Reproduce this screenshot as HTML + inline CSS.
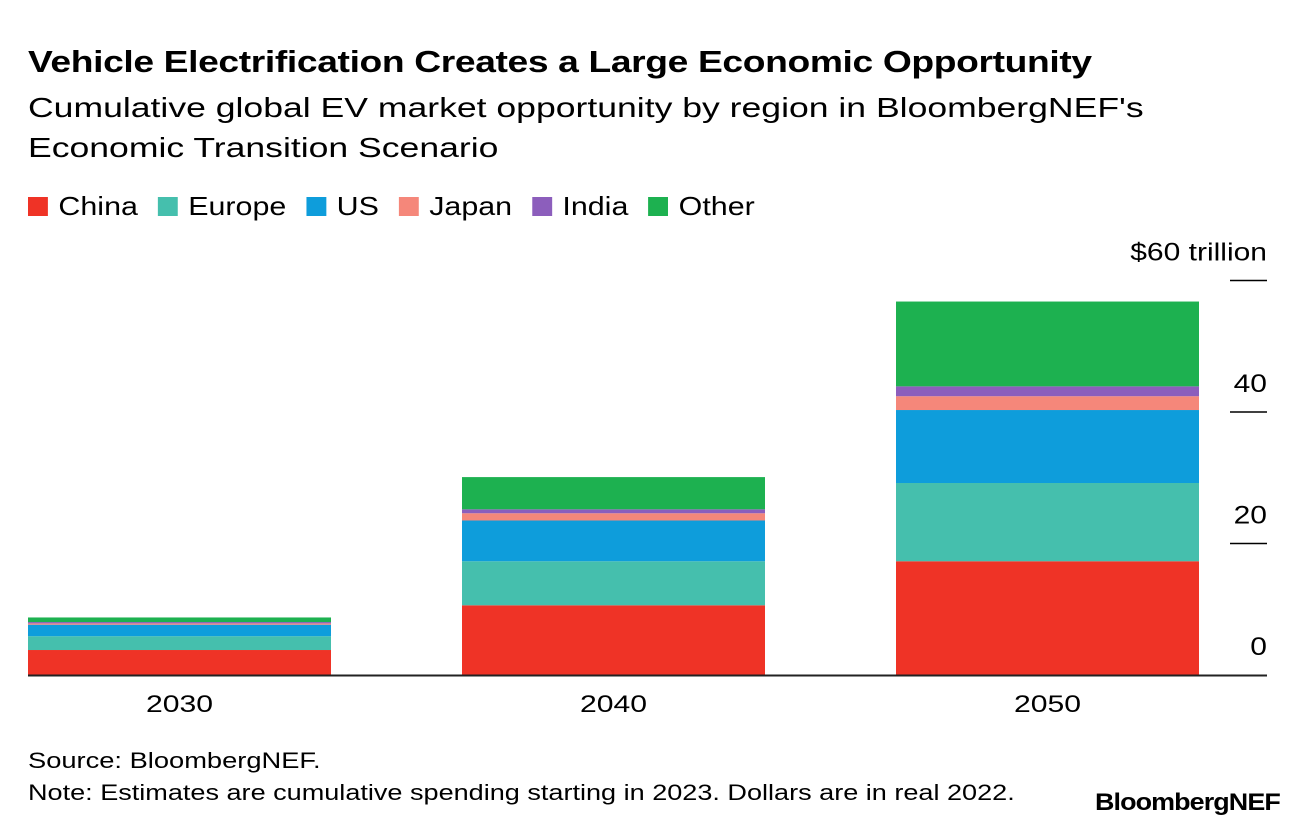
<!DOCTYPE html>
<html><head><meta charset="utf-8"><style>
body{margin:0;background:#fff;width:1296px;height:832px;overflow:hidden;font-family:"Liberation Sans",sans-serif;color:#000}
.t{position:absolute;white-space:nowrap;transform-origin:left top}
</style></head><body>
<div class="t" style="left:28px;top:44px;font-size:31px;font-weight:bold;letter-spacing:-0.3px;transform:scaleX(1.2)">Vehicle Electrification Creates a Large Economic Opportunity</div>
<div class="t" style="left:28px;top:88px;font-size:28px;line-height:40px;transform:scaleX(1.27)">Cumulative global EV market opportunity by region in BloombergNEF's<br>Economic Transition Scenario</div>
<div id="legend" class="t" style="left:28px;top:191px;font-size:26px;display:flex;gap:0;transform:scaleX(1.17)"></div>
<svg id="chart" width="1296" height="832" style="position:absolute;left:0;top:0;pointer-events:none"></svg>
<div class="t" style="left:28px;top:748px;font-size:22px;transform:scaleX(1.24)">Source: BloombergNEF.</div>
<div class="t" style="left:28px;top:780px;font-size:22px;transform:scaleX(1.23)">Note: Estimates are cumulative spending starting in 2023. Dollars are in real 2022.</div>
<div class="t" style="left:1095px;top:789px;font-size:24px;font-weight:bold;letter-spacing:-0.8px;transform:scaleX(1.12)">BloombergNEF</div>
<script>
const categories=["2030","2040","2050"];
const seriesNames=["China","Europe","US","Japan","India","Other"];
const colors=["#ef3326","#45bfad","#0e9ddb","#f5877a","#8c5ebc","#1db150"];
const china=[3.8,10.6,17.3];
const europe=[2.1,6.7,11.9];
const us=[1.75,6.2,11.1];
const japan=[0.2,1.1,2.1];
const india=[0.2,0.6,1.5];
const other=[0.7,4.9,12.9];
const ticks=[0,20,40,60];
const tickLabels=["0","20","40","$60 trillion"];
const series=[china,europe,us,japan,india,other];
const NS="http://www.w3.org/2000/svg";
const svg=document.getElementById('chart');
const y0=675,pxPer=131.5/20;
const y=v=>y0-v*pxPer;
const barW=303,x=i=>28+i*434;
function el(t,a){const e=document.createElementNS(NS,t);for(const k in a)e.setAttribute(k,a[k]);svg.appendChild(e);return e;}
categories.forEach((c,i)=>{
  let acc=0;
  series.forEach((s,j)=>{
    const r=el('rect',{x:x(i),y:y(acc+s[i]),width:barW,height:s[i]*pxPer,fill:colors[j]});
    
    
    acc+=s[i];
  });
  const t=el('text',{x:x(i)+barW/2,y:712,'text-anchor':'middle','font-size':24,'font-family':'Liberation Sans',textLength:67,lengthAdjust:'spacingAndGlyphs'});
  t.textContent=c;
  
  
});
ticks.forEach((v,k)=>{
  if(v>0){const l=el('line',{x1:1230,x2:1267,y1:y(v),y2:y(v),stroke:'#000','stroke-width':1.5});
  
  }
  const t=el('text',{x:1267,y:y(v)-20,'text-anchor':'end','font-size':25,'font-family':'Liberation Sans','transform':'translate(1267 0) scale(1.2 1) translate(-1267 0)'});
  t.textContent=tickLabels[k];
  
  
});
const base=el('line',{x1:28,x2:1267,y1:y0+0.5,y2:y0+0.5,stroke:'#222','stroke-width':2});


const lg=document.getElementById('legend');
seriesNames.forEach((n,j)=>{
  const d=document.createElement('div');
  
  
  d.style.cssText='display:flex;align-items:center;margin-right:17px';
  d.innerHTML='<span style="display:inline-block;width:17px;height:19px;background:'+colors[j]+';margin-right:9px"></span>'+n;
  lg.appendChild(d);
});
</script>
</body></html>
